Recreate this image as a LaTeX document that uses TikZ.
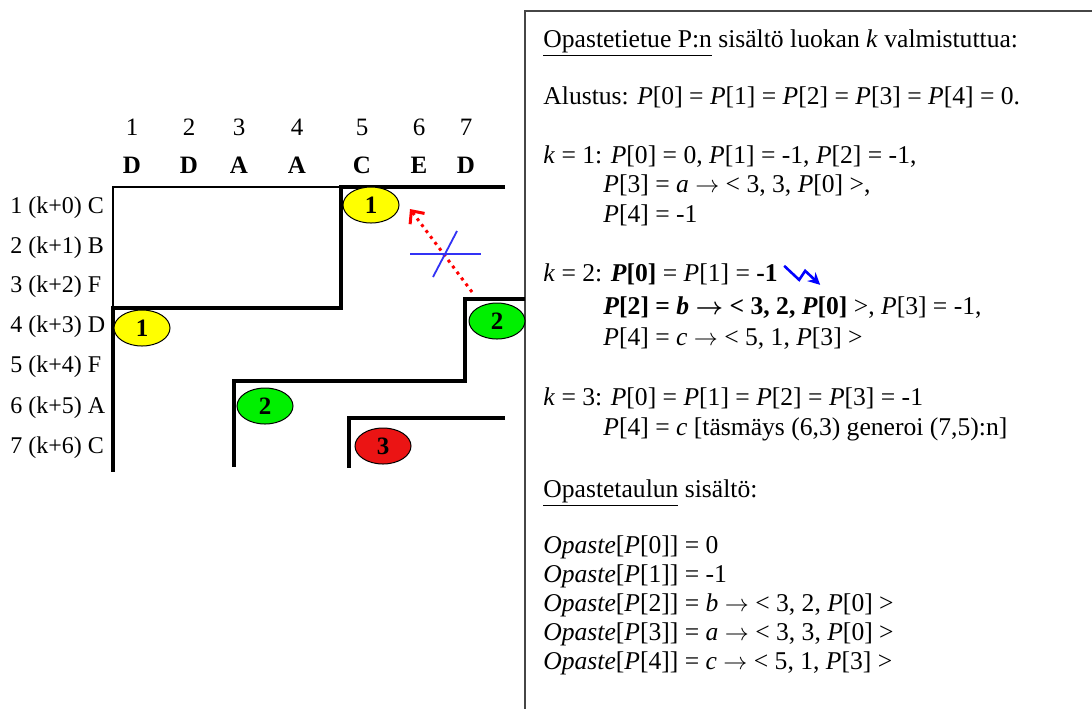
\documentclass[tikz,border=0pt]{standalone}
\usepackage{fontspec}
\setmainfont{Liberation Serif}
\usetikzlibrary{arrows.meta, positioning, calc, shapes.geometric}
\newcommand{\Pel}[1]{\textit{P}[#1]}
\newcommand{\yields}{\ensuremath{\rightarrow}}
\definecolor{hiyellow}{RGB}{255,255,0}
\definecolor{higreen}{RGB}{0,240,0}
\definecolor{hired}{RGB}{235,20,20}
\definecolor{crossblue}{RGB}{50,50,245}
\definecolor{framegray}{RGB}{70,70,70}

\begin{document}
\begin{tikzpicture}[
        x=0.5pt, y=-0.5pt,
        >=Stealth,
        font=\fontsize{12.5}{15}\selectfont,
        colnum/.style={inner sep=0pt, anchor=base},
        colchar/.style={inner sep=0pt, anchor=base, font=\fontsize{12.5}{15}\selectfont\bfseries},
        rowlab/.style={inner sep=0pt, anchor=base west, font=\fontsize{12}{15}\selectfont},
        txtline/.style={inner sep=0pt, anchor=base west, font=\fontsize{12.8}{15}\selectfont},
        wall/.style={line width=1.6pt},
        thinwall/.style={line width=1pt},
        hit/.style={ellipse, draw, line width=0.5pt, minimum width=28pt, minimum height=18pt, inner sep=0pt, font=\fontsize{12.5}{15}\selectfont\bfseries},
        noref/.style={red, line width=1.5pt, dash pattern=on 1.5pt off 2.2pt, -{Straight Barb[length=5pt, width=9pt]}},
        crossline/.style={crossblue, line width=0.9pt},
        jolt/.style={blue, line width=1.3pt, -{Stealth[length=6pt, width=6pt]}}
    ]
    \useasboundingbox (0,0) rectangle (1092,708);
    \fill[white] (0,0) rectangle (1092,708);

    \node[colnum] (c1) at (132,135) {1};
    \node[colnum] (c2) at (189,135) {2};
    \node[colnum] (c3) at (239,135) {3};
    \node[colnum] (c4) at (297,135) {4};
    \node[colnum] (c5) at (362,135) {5};
    \node[colnum] (c6) at (419,135) {6};
    \node[colnum] (c7) at (466,135) {7};
    \node[colchar] (h1) at (132,173) {D};
    \node[colchar] (h2) at (189,173) {D};
    \node[colchar] (h3) at (239,173) {A};
    \node[colchar] (h4) at (297,173) {A};
    \node[colchar] (h5) at (362,173) {C};
    \node[colchar] (h6) at (419,173) {E};
    \node[colchar] (h7) at (466,173) {D};

    \node[rowlab] (r1) at (10,213) {1 (k+0) C};
    \node[rowlab] (r2) at (10,253) {2 (k+1) B};
    \node[rowlab] (r3) at (10,292) {3 (k+2) F};
    \node[rowlab] (r4) at (10,332) {4 (k+3) D};
    \node[rowlab] (r5) at (10,372) {5 (k+4) F};
    \node[rowlab] (r6) at (10,413) {6 (k+5) A};
    \node[rowlab] (r7) at (10,453) {7 (k+6) C};

    \draw[framegray, line width=1.2pt] (1100,11) -- (525,11) -- (525,720);

    \draw[thinwall] (113,308) -- (113,187) -- (341,187);
    \draw[wall] (505,187) -- (341,187) -- (341,308) -- (113,308) -- (113,472);
    \draw[wall] (525,299) -- (465,299) -- (465,381) -- (234,381) -- (234,467);
    \draw[wall] (505,418) -- (349,418) -- (349,468);

    \node[hit, fill=hiyellow] (m1a) at (371,205) {1};
    \node[hit, fill=hiyellow] (m1b) at (142,328) {1};
    \node[hit, fill=higreen] (m2a) at (497,321) {2};
    \node[hit, fill=higreen] (m2b) at (265,406) {2};
    \node[hit, fill=hired] (m3) at (383,446) {3};

    \coordinate (tail) at (472,292);
    \coordinate (tip) at (410,209);
    \draw[noref] (tail) -- (tip);
    \coordinate (xa) at (410,254);
    \coordinate (xb) at (481,254);
    \coordinate (xc) at (433,277);
    \coordinate (xd) at (457,231);
    \draw[crossline] (xa) -- (xb);
    \draw[crossline] (xc) -- (xd);

    \node[txtline] (title) at (543,47) {\underline{Opastetietue P:n} sisältö luokan \textit{k} valmistuttua:};
    \node[txtline] (init) at (543,104) {Alustus: \Pel{0} = \Pel{1} = \Pel{2} = \Pel{3} = \Pel{4} = 0.};
    \node[txtline] (k1a) at (543,163) {\textit{k} = 1: \Pel{0} = 0, \Pel{1} = -1, \Pel{2} = -1,};
    \node[txtline] (k1b) at (603,192) {\Pel{3} = \textit{a} \yields{} < 3, 3, \Pel{0} >,};
    \node[txtline] (k1c) at (603,222) {\Pel{4} = -1};
    \node[txtline] (k2a) at (543,281) {\textit{k} = 2: \textbf{\Pel{0}} = \Pel{1} = \textbf{-1}};
    \node[txtline] (k2b) at (603,314) {\textbf{\Pel{2} = \textit{b} \boldmath\yields{} < 3, 2, \Pel{0}} >, \Pel{3} = -1,};
    \node[txtline] (k2c) at (603,345) {\Pel{4} = \textit{c} \yields{} < 5, 1, \Pel{3} >};
    \node[txtline] (k3a) at (543,405) {\textit{k} = 3: \Pel{0} = \Pel{1} = \Pel{2} = \Pel{3} = -1};
    \node[txtline] (k3b) at (603,435) {\Pel{4} = \textit{c} [täsmäys (6,3) generoi (7,5):n]};
    \node[txtline] (tabtitle) at (543,497) {\underline{Opastetaulun} sisältö:};
    \node[txtline] (op0) at (543,553) {\textit{Opaste}[\Pel{0}] = 0};
    \node[txtline] (op1) at (543,582) {\textit{Opaste}[\Pel{1}] = -1};
    \node[txtline] (op2) at (543,611) {\textit{Opaste}[\Pel{2}] = \textit{b} \yields{} < 3, 2, \Pel{0} >};
    \node[txtline] (op3) at (543,640) {\textit{Opaste}[\Pel{3}] = \textit{a} \yields{} < 3, 3, \Pel{0} >};
    \node[txtline] (op4) at (543,669) {\textit{Opaste}[\Pel{4}] = \textit{c} \yields{} < 5, 1, \Pel{3} >};

    \coordinate (zz) at ($(k2a.east)+(6,-8)$);
    \draw[jolt] (zz) -- ++(15,14) -- ++(6,-9) -- ++(15,14);
\end{tikzpicture}
\end{document}
